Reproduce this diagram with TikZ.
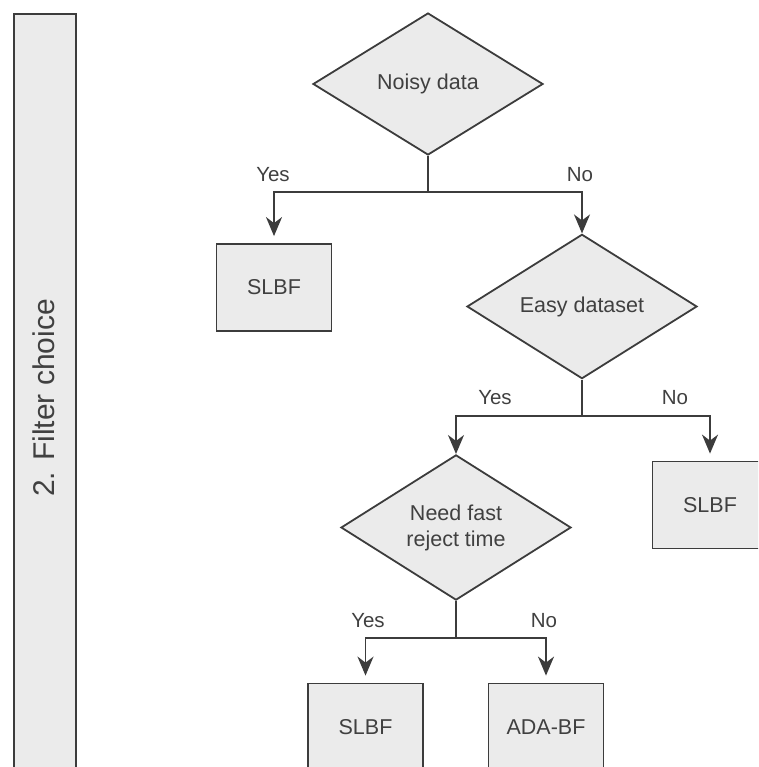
\documentclass[tikz,border=0pt]{standalone}
\usepackage{fontspec}
\setmainfont{Liberation Sans}
\usetikzlibrary{shapes.geometric,arrows.meta}
\definecolor{boxfill}{HTML}{EBEBEB}
\definecolor{linec}{HTML}{3C3C3C}
\definecolor{textc}{HTML}{404040}
\tikzset{
  base/.style={draw=linec, fill=boxfill, line width=1.8pt, text=textc, inner sep=0pt},
  decision/.style={base, diamond, minimum width=230pt, minimum height=142pt, font=\fontsize{21.5}{26}\selectfont, align=center},
  result/.style={base, rectangle, minimum width=115pt, minimum height=87pt, font=\fontsize{21.5}{25}\selectfont},
  lbl/.style={text=textc, font=\fontsize{20.5}{24}\selectfont, inner sep=0pt},
  conn/.style={draw=linec, line width=1.8pt},
  arr/.style={conn, -{Stealth[length=19pt, width=16pt, inset=6pt]}},
}
\begin{document}
\begin{tikzpicture}[x=1pt,y=-1pt]
\useasboundingbox (0,0) rectangle (758,767);
\clip (0,0) rectangle (758,767);
% side bar
\node[base, rectangle, minimum width=62pt, minimum height=800pt, anchor=north west] (bar) at (13,13) {};
\node[text=textc, rotate=90, font=\fontsize{30}{34}\selectfont, inner sep=0pt] (bartxt) at (44,398) {2. Filter choice};
% nodes
\node[decision] (d1) at (428,84) {Noisy data};
\node[result] (s1) at (274,287.5) {SLBF};
\node[decision] (d2) at (582,306.5) {Easy dataset};
\node[result] (s2) at (710,505) {SLBF};
\node[decision] (d3) at (456,527.5) {Need fast\\reject time};
\node[result] (s3) at (365.5,727) {SLBF};
\node[result] (s4) at (546,727) {ADA-BF};
% junctions
\coordinate (j1) at (428,192);
\coordinate (j2) at (582,416);
\coordinate (j3) at (456,638);
\draw[conn] (d1.south) -- (j1);
\draw[arr, shorten >=7pt] (j1) -| (s1.north);
\draw[arr] (j1) -| (d2.north);
\draw[conn] (d2.south) -- (j2);
\draw[arr] (j2) -| (d3.north);
\draw[arr, shorten >=7pt] (j2) -| (s2.north);
\draw[conn] (d3.south) -- (j3);
\draw[arr, shorten >=7pt] (j3) -| (s3.north);
\draw[arr, shorten >=7pt] (j3) -| (s4.north);
% labels
\node[lbl] (y1) at (273,175) {Yes};
\node[lbl] (n1) at (580,175) {No};
\node[lbl] (y2) at (495,398) {Yes};
\node[lbl] (n2) at (675,398) {No};
\node[lbl] (y3) at (368,621) {Yes};
\node[lbl] (n3) at (544,621) {No};
\end{tikzpicture}
\end{document}
